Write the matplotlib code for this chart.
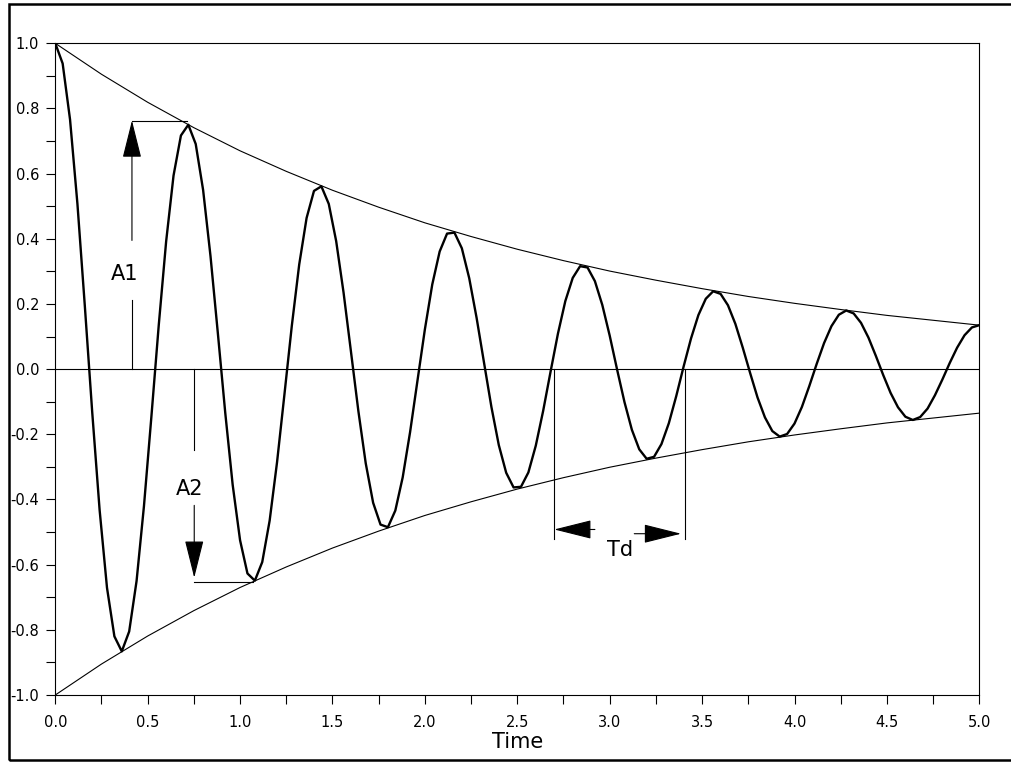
import matplotlib
matplotlib.use("Agg")
import matplotlib.pyplot as plt
from matplotlib.patches import Rectangle
from matplotlib.ticker import MultipleLocator, FormatStrFormatter

plt.rcParams['axes.unicode_minus'] = False

# damped oscillation, every 0.04 s
time = [
    0.00, 0.04, 0.08, 0.12, 0.16, 0.20, 0.24, 0.28, 0.32, 0.36,
    0.40, 0.44, 0.48, 0.52, 0.56, 0.60, 0.64, 0.68, 0.72, 0.76,
    0.80, 0.84, 0.88, 0.92, 0.96, 1.00, 1.04, 1.08, 1.12, 1.16,
    1.20, 1.24, 1.28, 1.32, 1.36, 1.40, 1.44, 1.48, 1.52, 1.56,
    1.60, 1.64, 1.68, 1.72, 1.76, 1.80, 1.84, 1.88, 1.92, 1.96,
    2.00, 2.04, 2.08, 2.12, 2.16, 2.20, 2.24, 2.28, 2.32, 2.36,
    2.40, 2.44, 2.48, 2.52, 2.56, 2.60, 2.64, 2.68, 2.72, 2.76,
    2.80, 2.84, 2.88, 2.92, 2.96, 3.00, 3.04, 3.08, 3.12, 3.16,
    3.20, 3.24, 3.28, 3.32, 3.36, 3.40, 3.44, 3.48, 3.52, 3.56,
    3.60, 3.64, 3.68, 3.72, 3.76, 3.80, 3.84, 3.88, 3.92, 3.96,
    4.00, 4.04, 4.08, 4.12, 4.16, 4.20, 4.24, 4.28, 4.32, 4.36,
    4.40, 4.44, 4.48, 4.52, 4.56, 4.60, 4.64, 4.68, 4.72, 4.76,
    4.80, 4.84, 4.88, 4.92, 4.96, 5.00,
]
response = [
    1.000, 0.938, 0.766, 0.507, 0.194, -0.132, -0.432, -0.671, -0.820, -0.866,
    -0.805, -0.650, -0.420, -0.147, 0.135, 0.392, 0.594, 0.717, 0.750, 0.691,
    0.550, 0.347, 0.109, -0.135, -0.355, -0.525, -0.627, -0.649, -0.592, -0.465,
    -0.286, -0.078, 0.133, 0.321, 0.464, 0.547, 0.561, 0.507, 0.393, 0.235,
    0.054, -0.128, -0.289, -0.410, -0.477, -0.485, -0.434, -0.332, -0.193, -0.035,
    0.122, 0.260, 0.361, 0.416, 0.419, 0.371, 0.279, 0.157, 0.020, -0.116,
    -0.233, -0.318, -0.363, -0.361, -0.317, -0.235, -0.128, -0.008, 0.109, 0.209,
    0.280, 0.316, 0.312, 0.270, 0.197, 0.103, -0.001, -0.101, -0.186, -0.246,
    -0.275, -0.269, -0.230, -0.166, -0.083, 0.008, 0.094, 0.166, 0.216, 0.239,
    0.231, 0.196, 0.139, 0.066, -0.012, -0.087, -0.148, -0.190, -0.207, -0.199,
    -0.167, -0.116, -0.052, 0.016, 0.080, 0.132, 0.167, 0.180, 0.171, 0.142,
    0.097, 0.041, -0.018, -0.073, -0.117, -0.146, -0.156, -0.147, -0.121, -0.080,
    -0.032, 0.019, 0.066, 0.104, 0.128, 0.135,
]

# decay envelope (upper half, lower is the mirror)
env_time = [0.00, 0.25, 0.50, 0.75, 1.00, 1.25, 1.50, 1.75, 2.00, 2.25, 2.50,
            2.75, 3.00, 3.25, 3.50, 3.75, 4.00, 4.25, 4.50, 4.75, 5.00]
envelope = [1.000, 0.905, 0.819, 0.741, 0.670, 0.607, 0.549, 0.497, 0.449, 0.407, 0.368,
            0.333, 0.301, 0.273, 0.247, 0.223, 0.202, 0.183, 0.165, 0.150, 0.135]

# annotation anchors
a1_x, a1_peak_t, a1_level = 0.415, 0.711, 0.763
a2_x, a2_trough_t, a2_level = 0.752, 1.071, -0.653
td_start, td_end, td_bottom = 2.70, 3.41, -0.52

fig = plt.figure(figsize=(10.12, 7.62), dpi=100)
ax = fig.add_axes([0.0546, 0.0879, 0.9131, 0.8553])

ax.plot(time, response, color='black', lw=1.7)
ax.plot(env_time, envelope, color='black', lw=0.8)
ax.plot(env_time, [-v for v in envelope], color='black', lw=0.8)
ax.axhline(0, color='black', lw=0.8)

ax.set_xlim(0, 5)
ax.set_ylim(-1, 1)
ax.xaxis.set_major_locator(MultipleLocator(0.5))
ax.xaxis.set_minor_locator(MultipleLocator(0.25))
ax.yaxis.set_major_locator(MultipleLocator(0.2))
ax.yaxis.set_minor_locator(MultipleLocator(0.1))
ax.xaxis.set_major_formatter(FormatStrFormatter('%.1f'))
ax.yaxis.set_major_formatter(FormatStrFormatter('%.1f'))
ax.tick_params(which='both', direction='out', length=6.5, width=0.8, labelsize=10.5)
ax.tick_params(axis='x', pad=8)
ax.tick_params(axis='y', pad=5)
for s in ax.spines.values():
    s.set_linewidth(0.8)
ax.set_xlabel('Time', fontsize=15, labelpad=1)

arrow_kw = dict(arrowstyle='-|>,head_length=1.2,head_width=0.3', mutation_scale=20,
                color='black', lw=0.8, shrinkA=0, shrinkB=0)

# A1
ax.plot([a1_x, a1_x], [0, 0.211], color='black', lw=0.8)
ax.annotate('', xy=(a1_x, a1_level), xytext=(a1_x, 0.395), arrowprops=arrow_kw)
ax.plot([a1_x, a1_peak_t], [a1_level, a1_level], color='black', lw=0.8)
ax.text(0.373, 0.293, 'A1', fontsize=15, ha='center', va='center')

# A2
ax.plot([a2_x, a2_x], [0, -0.249], color='black', lw=0.8)
ax.annotate('', xy=(a2_x, -0.64), xytext=(a2_x, -0.418), arrowprops=arrow_kw)
ax.plot([a2_x, a2_trough_t], [a2_level, a2_level], color='black', lw=0.8)
ax.text(0.729, -0.367, 'A2', fontsize=15, ha='center', va='center')

# Td
ax.plot([td_start, td_start], [0, td_bottom], color='black', lw=0.8)
ax.plot([td_end, td_end], [0, td_bottom], color='black', lw=0.8)
ax.annotate('', xy=(td_start, -0.492), xytext=(2.92, -0.492), arrowprops=arrow_kw)
ax.annotate('', xy=(3.386, -0.505), xytext=(3.133, -0.505), arrowprops=arrow_kw)
ax.text(3.056, -0.556, 'Td', fontsize=15, ha='center', va='center')

# frame round the whole picture
fig.add_artist(Rectangle((0.009, 0.003), 1.0, 0.992, transform=fig.transFigure,
                         fill=False, lw=1.8, ec='black'))

fig.savefig('out.png', dpi=100)
